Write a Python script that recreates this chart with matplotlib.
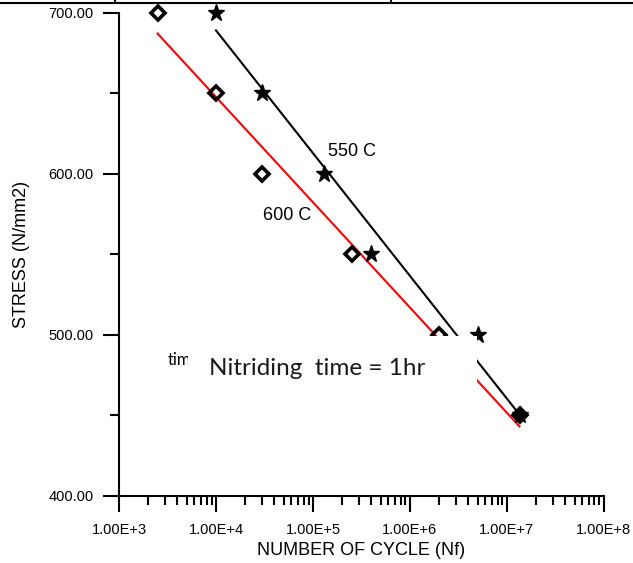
import matplotlib
matplotlib.use("Agg")
import matplotlib.pyplot as plt
from matplotlib.lines import Line2D
from matplotlib.patches import Rectangle
from matplotlib.ticker import FixedLocator, FixedFormatter, LogLocator, NullFormatter

# S-N data
cycles_600 = [2.5e3, 1.0e4, 3.0e4, 2.5e5, 2.0e6, 1.35e7]
stress_600 = [700, 650, 600, 550, 500, 450]
cycles_550 = [1.0e4, 3.0e4, 1.3e5, 4.0e5, 5.0e6, 1.35e7]
stress_550 = [700, 650, 600, 550, 500, 450]

# fitted lines (end points)
fit_cycles_600 = [2.5e3, 1.35e7]
fit_stress_600 = [687, 443]
fit_cycles_550 = [1.0e4, 1.45e7]
fit_stress_550 = [689, 448]

x_ticks = [1e3, 1e4, 1e5, 1e6, 1e7, 1e8]
x_tick_labels = ["1.00E+3", "1.00E+4", "1.00E+5", "1.00E+6", "1.00E+7", "1.00E+8"]
y_ticks = [400, 500, 600, 700]
y_tick_labels = ["400.00", "500.00", "600.00", "700.00"]
y_minor = [450, 550, 650]

plt.rcParams['font.family'] = ['Liberation Sans', 'DejaVu Sans']

fig = plt.figure(figsize=(6.33, 5.63), dpi=100)
ax = fig.add_axes([0.188, 0.1195, 0.766, 0.858])

ax.plot(fit_cycles_600, fit_stress_600, color='#ff0000', lw=1.5, zorder=2)
ax.plot(fit_cycles_550, fit_stress_550, color='black', lw=1.5, zorder=2)
ax.plot(cycles_600, stress_600, ls='none', marker='D', ms=7.5, mfc='none',
        mec='black', mew=2.6, clip_on=False, zorder=3)
ax.plot(cycles_550, stress_550, ls='none', marker='*', ms=12.5, color='black',
        clip_on=False, zorder=3)

ax.set_xscale('log')
ax.set_xlim(1e3, 1e8)
ax.set_ylim(400, 700)

ax.xaxis.set_major_locator(FixedLocator(x_ticks))
ax.xaxis.set_major_formatter(FixedFormatter(x_tick_labels))
ax.xaxis.set_minor_locator(LogLocator(base=10, subs=range(2, 10), numticks=20))
ax.xaxis.set_minor_formatter(NullFormatter())
ax.yaxis.set_major_locator(FixedLocator(y_ticks))
ax.yaxis.set_major_formatter(FixedFormatter(y_tick_labels))
ax.yaxis.set_minor_locator(FixedLocator(y_minor))

for s in ['top', 'right']:
    ax.spines[s].set_visible(False)
for s in ['left', 'bottom']:
    ax.spines[s].set_linewidth(1.5)

ax.tick_params(which='major', direction='out', length=11.5, width=1.5,
               labelsize=10.5)
ax.tick_params(axis='x', which='major', pad=8)
ax.tick_params(axis='y', which='major', pad=7)
ax.tick_params(which='minor', direction='out', length=6.5, width=1.5)

ax.set_xlabel("NUMBER OF CYCLE (Nf)", fontsize=13, labelpad=4)
ax.set_ylabel("STRESS (N/mm2)", fontsize=13, labelpad=13)

ax.text(1.43e5, 614, "550 C", fontsize=13, ha='left', va='center')
ax.text(3.05e4, 574, "600 C", fontsize=13, ha='left', va='center')

# white text box that hides part of the lines
ax.text(0.101, 0.28, "tim", transform=ax.transAxes, fontsize=12,
        family='Lato', ha='left', va='center', zorder=4)
ax.add_patch(Rectangle((0.1423, 0.198), 0.596, 0.1326, transform=ax.transAxes,
                       facecolor='white', edgecolor='none', zorder=5))
ax.text(0.1856, 0.2625, "Nitriding  time = 1hr", transform=ax.transAxes,
        fontsize=17.5, family='Lato', color='#1a1a1a', ha='left', va='center',
        zorder=6)

# table border pieces at the top of the picture
fig.add_artist(Line2D([0, 1], [0.9947, 0.9947], transform=fig.transFigure,
                      color='black', lw=1.5))
for xv in [0.1817, 0.6177]:
    fig.add_artist(Line2D([xv, xv], [0.9947, 1.0], transform=fig.transFigure,
                          color='black', lw=1.5))

fig.savefig("out.png", dpi=100)
